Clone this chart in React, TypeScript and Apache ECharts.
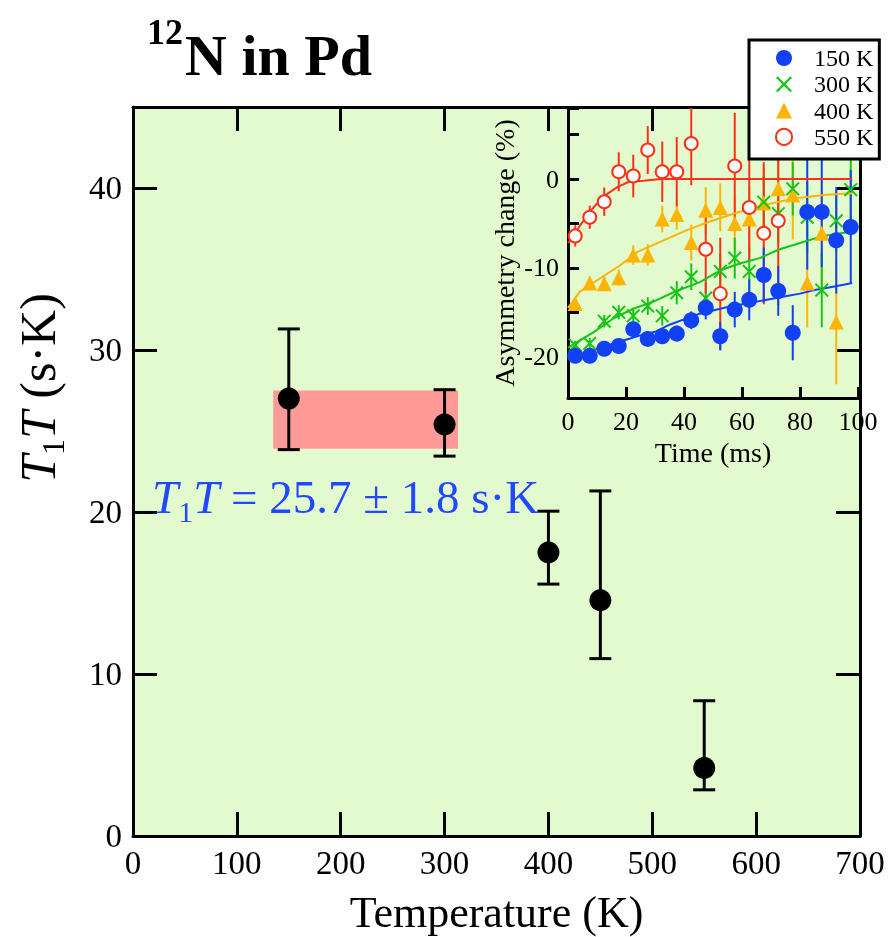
import React, { useEffect, useRef } from 'react';
import * as echarts from 'echarts';

const FONT = '"Liberation Serif", "Times New Roman", serif';

// ---------- main plot data ----------
const mainTemps = [150, 300, 400, 450, 550];
const mainT1T = [27.0, 25.4, 17.5, 14.55, 4.2];
const mainUpper = [31.3, 27.55, 20.05, 21.3, 8.35];
const mainLower = [23.85, 23.45, 15.55, 10.95, 2.85];
const bandTemps = [135, 313];
const bandT1T = [23.9, 27.5];

// ---------- inset data ----------
const insetTimes = [2.5, 7.5, 12.5, 17.5, 22.5, 27.5, 32.5, 37.5, 42.5, 47.5, 52.5, 57.5, 62.5, 67.5, 72.5, 77.5, 82.5, 87.5, 92.5, 97.5];

const blueVals = [-19.9, -19.9, -19.1, -18.8, -16.9, -18.0, -17.7, -17.4, -15.9, -14.5, -17.7, -14.7, -13.6, -10.8, -12.6, -17.3, -3.7, -3.7, -6.9, -5.4];
const blueErr = [0.5, 0.5, 0.5, 0.6, 0.7, 0.8, 0.8, 0.9, 1.0, 1.3, 1.6, 2.0, 2.3, 3.1, 2.8, 3.1, 6.5, 6.2, 6.0, 6.4];

const greenVals = [-18.7, -18.5, -16.0, -15.0, -15.4, -14.3, -15.4, -12.8, -11.0, -13.4, -10.4, -8.9, -10.4, -2.6, -3.9, -1.1, -4.3, -12.5, -4.7, -1.2];
const greenErr = [0.5, 0.6, 0.7, 0.8, 0.9, 1.0, 1.1, 1.3, 1.5, 1.8, 2.0, 2.3, 2.7, 3.0, 3.3, 3.0, 4.0, 4.2, 3.5, 4.5];

const orangeVals = [-14.0, -11.7, -11.8, -11.1, -8.55, -8.55, -4.5, -4.0, -7.15, -3.5, -3.2, -5.0, -4.5, -2.7, -1.1, -1.8, -11.7, -6.1, -16.1];
const orangeErr = [0.6, 0.7, 0.8, 0.9, 1.1, 1.2, 1.5, 1.7, 2.0, 2.6, 2.7, 3.0, 3.7, 4.0, 4.5, 5.0, 5.0, 6.0, 7.0];

const redVals = [-6.4, -4.3, -2.55, 0.82, 0.34, 3.26, 0.82, 0.82, 4.0, -7.9, -12.9, 1.46, -3.2, -6.1, -4.7];
const redErr = [1.2, 1.3, 1.6, 2.2, 2.4, 2.7, 3.4, 3.9, 4.7, 5.0, 6.3, 6.0, 6.0, 8.0, 9.5];

// fitted curves
const blueFitT = [0, 5, 10, 15, 20, 25, 30, 35, 40, 45, 50, 55, 60, 65, 70, 75, 80, 85, 90, 95, 98];
const blueFitV = [-20.3, -19.7, -19.1, -18.6, -18.1, -17.6, -17.2, -16.4, -15.8, -15.2, -14.8, -14.4, -14.1, -13.8, -13.5, -13.2, -12.9, -12.5, -12.2, -11.9, -11.7];
const greenFitT = [0, 4, 9, 15.6, 22.5, 29.4, 37.4, 45.5, 52.4, 59.2, 66.1, 73, 80, 88, 98];
const greenFitV = [-19.0, -18.2, -17.2, -15.7, -14.6, -13.8, -12.6, -11.6, -10.3, -9.5, -8.9, -7.9, -7.2, -6.4, -5.9];
const orangeFitT = [0, 4, 11, 18, 24, 32, 41, 47, 57, 66, 78, 88, 98];
const orangeFitV = [-14.5, -12.7, -11.2, -9.7, -8.2, -7.05, -5.75, -5.0, -3.9, -3.05, -2.2, -1.8, -1.6];
const redFitT = [0, 2, 4, 8, 12, 17, 21, 26, 32, 98];
const redFitV = [-7.2, -6.5, -5.3, -3.5, -2.0, -0.9, -0.3, -0.2, 0, 0];

const legendNames = ['150 K', '300 K', '400 K', '550 K'];
const mainXTicks = { min: 0, max: 700, step: 100 };
const mainYTicks = { min: 0, max: 45, step: 10 };

const BLUE = '#1240f5';
const GREEN = '#17c417';
const ORANGE = '#ffb400';
const RED = '#ff3018';
const CROSS = 'path://M0,1L1,0L5,4L9,0L10,1L6,5L10,9L9,10L5,6L1,10L0,9L4,5Z';

const pts = (t: number[], v: number[]) => v.map((y, i) => [t[i], y]);
const bars = (t: number[], v: number[], e: number[]) => v.map((y, i) => [t[i], y - e[i], y + e[i]]);

function insetBars(name: string, color: string, data: number[][]) {
  return {
    type: 'custom',
    name,
    xAxisIndex: 2,
    yAxisIndex: 2,
    clip: true,
    z: 3,
    encode: { x: 0, y: [1, 2] },
    data,
    renderItem: (_p: any, api: any) => {
      const x = api.value(0);
      const a = api.coord([x, api.value(1)]);
      const b = api.coord([x, api.value(2)]);
      return {
        type: 'line',
        shape: { x1: a[0], y1: a[1], x2: b[0], y2: b[1] },
        style: { stroke: color, lineWidth: 2 },
      };
    },
  };
}

function fitLine(name: string, color: string, t: number[], v: number[]) {
  return {
    type: 'line',
    name,
    xAxisIndex: 2,
    yAxisIndex: 2,
    data: pts(t, v),
    showSymbol: false,
    symbol: 'none',
    z: 4,
    lineStyle: { color, width: 2 },
  };
}

function richT1T(color: string, size: number, sub: number) {
  return {
    i: { fontFamily: FONT, fontStyle: 'italic', fontSize: size, lineHeight: size + 6, verticalAlign: 'top', fill: color },
    n: { fontFamily: FONT, fontSize: size, lineHeight: size + 6, verticalAlign: 'top', fill: color },
    s: { fontFamily: FONT, fontSize: sub, lineHeight: sub, verticalAlign: 'bottom', fill: color },
  };
}

export default function App() {
  const ref = useRef<HTMLDivElement>(null);
  useEffect(() => {
    if (!ref.current) return;
    const chart = echarts.init(ref.current, null, { renderer: 'svg' });
    const axisLine = { show: true, onZero: false, lineStyle: { color: '#000', width: 3 } };
    const mainTick = { show: true, inside: true, length: 24, lineStyle: { color: '#000', width: 3 } };
    const insetTick = { show: true, inside: true, length: 11, lineStyle: { color: '#000', width: 3 } };
    const labelStyle = { fontFamily: FONT, color: '#000' };

    const option: any = {
      animation: false,
      grid: [
        { left: 133, top: 107, width: 727, height: 729, show: true, backgroundColor: '#e2facd', borderWidth: 0, outerBoundsMode: 'none' },
        { left: 568, top: 108, width: 290, height: 290, show: false, outerBoundsMode: 'none' },
      ],
      xAxis: [
        {
          gridIndex: 0, type: 'value', position: 'bottom', min: mainXTicks.min, max: mainXTicks.max, interval: mainXTicks.step,
          axisLine, axisTick: mainTick, splitLine: { show: false },
          axisLabel: { ...labelStyle, fontSize: 33, margin: 10 },
          name: 'Temperature (K)', nameLocation: 'middle', nameGap: 54,
          nameTextStyle: { ...labelStyle, fontSize: 44 },
        },
        {
          gridIndex: 0, type: 'value', position: 'top', min: mainXTicks.min, max: mainXTicks.max, interval: mainXTicks.step,
          axisLine, axisTick: mainTick, splitLine: { show: false }, axisLabel: { show: false },
        },
        {
          gridIndex: 1, type: 'value', position: 'bottom', min: 0, max: 100, interval: 20,
          axisLine, axisTick: insetTick, splitLine: { show: false },
          axisLabel: { ...labelStyle, fontSize: 26, margin: 10 },
          name: 'Time (ms)', nameLocation: 'middle', nameGap: 40,
          nameTextStyle: { ...labelStyle, fontSize: 28 },
        },
      ],
      yAxis: [
        {
          gridIndex: 0, type: 'value', position: 'left', min: mainYTicks.min, max: mainYTicks.max, interval: mainYTicks.step,
          axisLine, axisTick: mainTick, splitLine: { show: false },
          axisLabel: { ...labelStyle, fontSize: 33, margin: 11, formatter: (v: number) => (v % 10 === 0 ? String(v) : '') },
        },
        {
          gridIndex: 0, type: 'value', position: 'right', min: mainYTicks.min, max: mainYTicks.max, interval: mainYTicks.step,
          axisLine, axisTick: mainTick, splitLine: { show: false }, axisLabel: { show: false },
        },
        {
          gridIndex: 1, type: 'value', position: 'left', min: -24.65, max: 8, splitNumber: 7,
          axisLine, axisTick: insetTick, splitLine: { show: false },
          axisLabel: {
            ...labelStyle, fontSize: 26, margin: 9,
            formatter: (v: number) => (Math.abs(v % 10) < 1e-6 ? String(Math.round(v)) : ''),
          },
          name: 'Asymmetry change (%)', nameLocation: 'middle', nameGap: 50,
          nameTextStyle: { ...labelStyle, fontSize: 28 },
        },
      ],
      legend: {
        data: legendNames,
        orient: 'vertical',
        left: 749,
        top: 40,
        padding: [6, 6, 10, 26],
        itemWidth: 16,
        itemHeight: 16,
        itemGap: 2.3,
        selectedMode: false,
        backgroundColor: '#fff',
        borderColor: '#000',
        borderWidth: 3,
        borderRadius: 0,
        textStyle: { ...labelStyle, fontSize: 24, lineHeight: 23, padding: [0, 0, 0, 17] },
      },
      graphic: [
        { type: 'text', left: 147, top: 14, style: { text: '12', font: `bold 36px ${FONT}`, fill: '#000' } },
        { type: 'text', x: 185, y: 55.5, style: { text: 'N in Pd', font: `bold 58px ${FONT}`, fill: '#000', align: 'left', verticalAlign: 'middle' } },
        {
          type: 'text', x: 41, y: 388, rotation: Math.PI / 2,
          style: {
            text: '{i|T}{s|1}{i|T}{n| (s·K)}', align: 'center', verticalAlign: 'middle', fill: '#000',
            rich: richT1T('#000', 50, 32),
          },
        },
        {
          type: 'text', x: 152, y: 500, z: 10,
          style: {
            text: '{i|T}{s|1}{i|T}{n| = 25.7 ± 1.8 s·K}', align: 'left', verticalAlign: 'middle', fill: '#2048ff',
            rich: richT1T('#2048ff', 47, 30),
          },
        },
      ],
      series: [
        {
          type: 'custom', name: 'band', xAxisIndex: 0, yAxisIndex: 0, z: 1,
          encode: { x: [0, 1], y: [2, 3] },
          data: [[bandTemps[0], bandTemps[1], bandT1T[0], bandT1T[1]]],
          renderItem: (_p: any, api: any) => {
            const a = api.coord([api.value(0), api.value(3)]);
            const b = api.coord([api.value(1), api.value(2)]);
            return { type: 'rect', shape: { x: a[0], y: a[1], width: b[0] - a[0], height: b[1] - a[1] }, style: { fill: '#ff9b96' } };
          },
        },
        {
          type: 'custom', name: 'err', xAxisIndex: 0, yAxisIndex: 0, z: 2,
          encode: { x: 0, y: [1, 2] },
          data: mainTemps.map((t, i) => [t, mainLower[i], mainUpper[i]]),
          renderItem: (_p: any, api: any) => {
            const x = api.value(0);
            const lo = api.coord([x, api.value(1)]);
            const hi = api.coord([x, api.value(2)]);
            const st = { stroke: '#000', lineWidth: 3 };
            return {
              type: 'group',
              children: [
                { type: 'line', shape: { x1: lo[0], y1: lo[1], x2: hi[0], y2: hi[1] }, style: st },
                { type: 'line', shape: { x1: lo[0] - 11, y1: lo[1], x2: lo[0] + 11, y2: lo[1] }, style: st },
                { type: 'line', shape: { x1: hi[0] - 11, y1: hi[1], x2: hi[0] + 11, y2: hi[1] }, style: st },
              ],
            };
          },
        },
        {
          type: 'scatter', name: 'T1T', xAxisIndex: 0, yAxisIndex: 0, z: 3,
          data: pts(mainTemps, mainT1T), symbol: 'circle', symbolSize: 22,
          itemStyle: { color: '#000', opacity: 1 },
        },
        insetBars('bo', ORANGE, bars(insetTimes, orangeVals, orangeErr)),
        insetBars('bg', GREEN, bars(insetTimes, greenVals, greenErr)),
        insetBars('br', RED, bars(insetTimes, redVals, redErr)),
        insetBars('bb', BLUE, bars(insetTimes, blueVals, blueErr)),
        fitLine('fr', RED, redFitT, redFitV),
        fitLine('fo', ORANGE, orangeFitT, orangeFitV),
        fitLine('fg', GREEN, greenFitT, greenFitV),
        fitLine('fb', BLUE, blueFitT, blueFitV),
        {
          type: 'scatter', name: legendNames[2], xAxisIndex: 2, yAxisIndex: 2, z: 5,
          data: pts(insetTimes, orangeVals), symbol: 'triangle', symbolSize: 15,
          itemStyle: { color: ORANGE, opacity: 1 },
        },
        {
          type: 'scatter', name: legendNames[1], xAxisIndex: 2, yAxisIndex: 2, z: 5,
          data: pts(insetTimes, greenVals), symbol: CROSS, symbolSize: 14,
          itemStyle: { color: GREEN, opacity: 1 },
        },
        {
          type: 'scatter', name: legendNames[3], xAxisIndex: 2, yAxisIndex: 2, z: 5,
          data: pts(insetTimes, redVals), symbol: 'emptyCircle', symbolSize: 13,
          itemStyle: { color: RED, borderColor: RED, borderWidth: 2, opacity: 1 },
        },
        {
          type: 'scatter', name: legendNames[0], xAxisIndex: 2, yAxisIndex: 2, z: 5,
          data: pts(insetTimes, blueVals), symbol: 'circle', symbolSize: 16,
          itemStyle: { color: BLUE, opacity: 1 },
        },
      ],
    };
    chart.setOption(option);
    return () => chart.dispose();
  }, []);
  return <div ref={ref} style={{ position: 'fixed', left: 0, top: 0, width: 888, height: 937 }} />;
}
